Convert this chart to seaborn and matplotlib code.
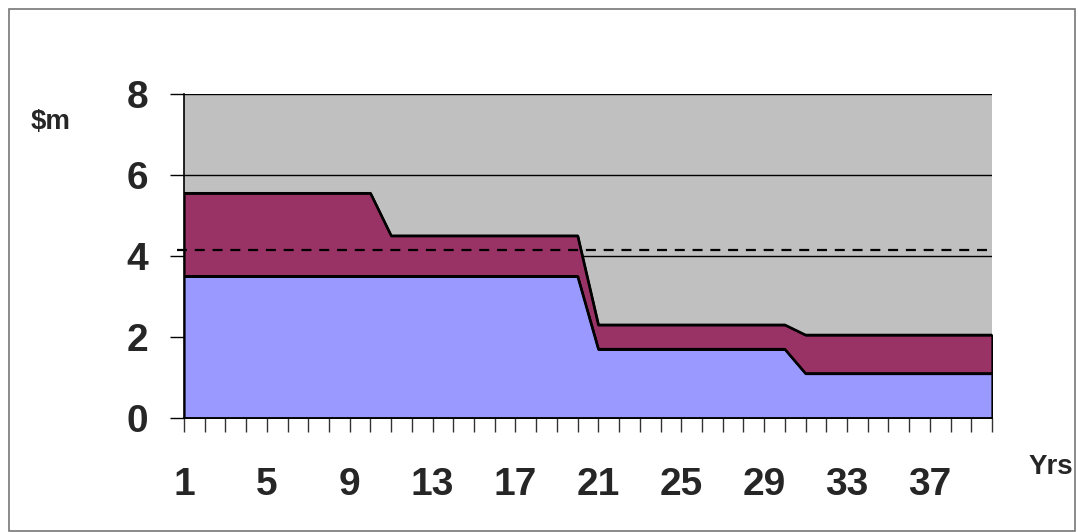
import matplotlib
matplotlib.use("Agg")
import matplotlib.pyplot as plt
import seaborn as sns
import pandas as pd
from matplotlib.patches import Rectangle

# ---- data ----
years = list(range(1, 41))
base_series = [3.5, 3.5, 3.5, 3.5, 3.5, 3.5, 3.5, 3.5, 3.5, 3.5,
               3.5, 3.5, 3.5, 3.5, 3.5, 3.5, 3.5, 3.5, 3.5, 3.5,
               1.7, 1.7, 1.7, 1.7, 1.7, 1.7, 1.7, 1.7, 1.7, 1.7,
               1.1, 1.1, 1.1, 1.1, 1.1, 1.1, 1.1, 1.1, 1.1, 1.1]
extra_series = [2.05, 2.05, 2.05, 2.05, 2.05, 2.05, 2.05, 2.05, 2.05, 2.05,
                1.0, 1.0, 1.0, 1.0, 1.0, 1.0, 1.0, 1.0, 1.0, 1.0,
                0.6, 0.6, 0.6, 0.6, 0.6, 0.6, 0.6, 0.6, 0.6, 0.6,
                0.95, 0.95, 0.95, 0.95, 0.95, 0.95, 0.95, 0.95, 0.95, 0.95]
threshold = 4.15
y_ticks = [0, 2, 4, 6, 8]
x_label_years = [1, 5, 9, 13, 17, 21, 25, 29, 33, 37]

df = pd.DataFrame({"year": years, "base": base_series, "extra": extra_series})
df["total"] = df["base"] + df["extra"]

sns.set_style("white")
plt.rcParams["font.family"] = ["Liberation Sans", "DejaVu Sans"]
plt.rcParams["font.weight"] = "bold"

fig = plt.figure(figsize=(10.78, 5.32), dpi=100)
ax = fig.add_axes([184 / 1078, 1 - 418 / 532, 808 / 1078, 324 / 532])
ax.set_facecolor("#C0C0C0")

# gridlines (behind areas)
for yv in y_ticks[1:]:
    ax.axhline(yv, color="black", lw=1.0, zorder=0.5)

ax.fill_between(df["year"], 0, df["base"], facecolor="#9999FF",
                edgecolor="black", lw=1.6, zorder=2)
ax.fill_between(df["year"], df["base"], df["total"], facecolor="#993366",
                edgecolor="black", lw=1.6, zorder=2)
sns.lineplot(data=df, x="year", y="base", color="black", lw=1.8, ax=ax, zorder=3)
sns.lineplot(data=df, x="year", y="total", color="black", lw=1.8, ax=ax, zorder=3)

ax.plot([0.65, 40.1], [threshold, threshold], color="black", lw=1.6,
        ls=(0, (4.5, 3.5)), clip_on=False, zorder=4)

ax.set_xlim(1, 40)
ax.set_ylim(0, 8)
ax.set_xticks(years)
ax.set_xticklabels([str(y) if y in x_label_years else "" for y in years])
ax.set_yticks(y_ticks)
ax.set_yticklabels([str(v) for v in y_ticks])
ax.set_xlabel("")
ax.set_ylabel("")

ax.tick_params(axis="x", direction="out", length=10, width=1, color="#333333",
               labelsize=28, pad=25, bottom=True)
ax.tick_params(axis="y", direction="out", length=10, width=1, color="black",
               labelsize=28, pad=16, left=True)
for lab in ax.get_xticklabels() + ax.get_yticklabels():
    lab.set_fontweight("bold")

for side in ["top", "right"]:
    ax.spines[side].set_visible(False)
for side in ["left", "bottom"]:
    ax.spines[side].set_visible(True)
    ax.spines[side].set_color("black")
    ax.spines[side].set_linewidth(1.2)
    ax.spines[side].set_zorder(5)

fig.text(51 / 1078, 1 - 122 / 532, "$m", fontsize=20, fontweight="bold",
         ha="center", va="center")
fig.text(1051 / 1078, 1 - 467 / 532, "Yrs", fontsize=20, fontweight="bold",
         ha="center", va="center")

fig.patches.append(Rectangle((9 / 1078, 1 - 531 / 532), 1066 / 1078, 522 / 532,
                             transform=fig.transFigure, fill=False,
                             edgecolor="#777777", lw=1.2))

fig.savefig("out.png", dpi=100)
